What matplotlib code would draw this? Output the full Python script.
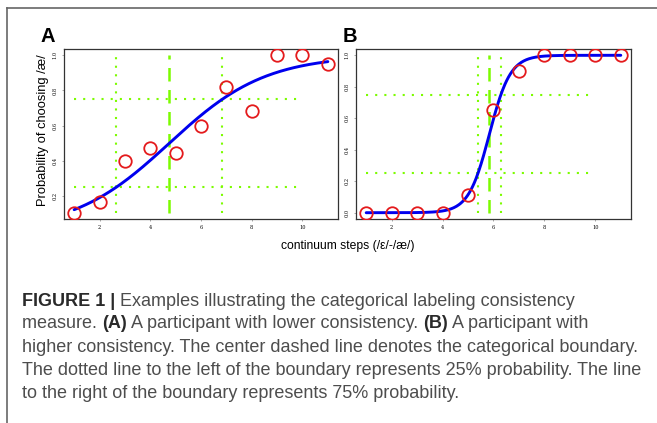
import numpy as np
import matplotlib
matplotlib.use("Agg")
import matplotlib.pyplot as plt
from matplotlib.lines import Line2D

# ---------------- DATA ----------------
steps = [1, 2, 3, 4, 5, 6, 7, 8, 9, 10, 11]
prop_a = [0.105, 0.164, 0.40, 0.474, 0.445, 0.60, 0.82, 0.686, 1.0, 1.0, 0.949]
prop_b = [0.0, 0.0, 0.0, 0.0, 0.114, 0.652, 0.90, 1.0, 1.0, 1.0, 1.0]

# logistic fits: boundary (50%) and slope
boundary = [4.75, 5.84]
slope = [0.526, 2.44]

panel_labels = ["A", "B"]
x_ticks = [2, 4, 6, 8, 10]
y_ticks_a = [0.2, 0.4, 0.6, 0.8, 1.0]
y_ticks_b = [0.0, 0.2, 0.4, 0.6, 0.8, 1.0]

caption_lines = [
    [("FIGURE 1 |", True), (" Examples illustrating the categorical labeling consistency", False)],
    [("measure. ", False), ("(A)", True), (" A participant with lower consistency. ", False),
     ("(B)", True), (" A participant with", False)],
    [("higher consistency. The center dashed line denotes the categorical boundary.", False)],
    [("The dotted line to the left of the boundary represents 25% probability. The line", False)],
    [("to the right of the boundary represents 75% probability.", False)],
]

GREEN = "#7cfc00"
W, H = 657, 423


def draw_panel(ax, y, b, s, yticks):
    x = np.array(steps, dtype=float)
    y = np.array(y, dtype=float)
    ymin, ymax = y.min(), y.max()
    q = np.log(3) / s
    lo, hi = b - q, b + q

    # guide lines
    ax.hlines([0.25, 0.75], x.min(), 10, colors=GREEN, lw=1.5,
              linestyles=(0, (1.0, 3.4)))
    ax.vlines([lo, hi], ymin, ymax, colors=GREEN, lw=1.5,
              linestyles=(0, (1.0, 3.1)))
    ax.vlines([b], ymin, ymax, colors=GREEN, lw=1.8,
              linestyles=(0, (5.4, 3.4)))

    # fitted curve
    xx = np.linspace(x.min(), x.max(), 300)
    ax.plot(xx, 1 / (1 + np.exp(-s * (xx - b))), color="#0000ee", lw=2.1,
            solid_capstyle="round", zorder=3)

    # observed proportions
    ax.plot(x, y, "o", mfc="none", mec="#e41a1c", mew=1.3, ms=9, zorder=4)

    xr = x.max() - x.min()
    yr = ymax - ymin
    ax.set_xlim(x.min() - 0.04 * xr, x.max() + 0.04 * xr)
    ax.set_ylim(ymin - 0.04 * yr, ymax + 0.04 * yr)

    ax.set_xticks(x_ticks)
    ax.set_yticks(yticks)
    ax.set_xticklabels([str(t) for t in x_ticks], family="DejaVu Serif", fontsize=3.6)
    ax.set_yticklabels(["%.1f" % t for t in yticks], family="DejaVu Serif",
                       fontsize=3.6, rotation=90, va="center")
    ax.tick_params(length=1.5, width=0.5, color="#888888", pad=3)
    for sp in ax.spines.values():
        sp.set_linewidth(0.9)
        sp.set_color("#333333")


def main():
    fig = plt.figure(figsize=(W / 100, H / 100), dpi=100)

    ax_a = fig.add_axes([64 / W, 1 - 219 / H, 274 / W, 170 / H])
    ax_b = fig.add_axes([356 / W, 1 - 219 / H, 275 / W, 170 / H])

    draw_panel(ax_a, prop_a, boundary[0], slope[0], y_ticks_a)
    draw_panel(ax_b, prop_b, boundary[1], slope[1], y_ticks_b)

    # panel letters
    for lab, px in zip(panel_labels, [48, 350]):
        fig.text(px / W, 1 - 36 / H, lab, fontsize=14.5, fontweight="bold",
                 family="Liberation Sans", ha="center", va="center")

    fig.text(43 / W, 1 - 130 / H, "Probability of choosing /æ/", rotation=90,
             fontsize=9.3, family="Liberation Sans", ha="center", va="center")
    fig.text(348 / W, 1 - 246 / H, "continuum steps (/ε/-/æ/)",
             fontsize=8.7, family="Liberation Sans", ha="center", va="center")

    # frame lines (top and left)
    fig.add_artist(Line2D([7 / W, 1], [1 - 8 / H, 1 - 8 / H], color="#666666", lw=1.2))
    fig.add_artist(Line2D([7 / W, 7 / W], [0, 1 - 8 / H], color="#666666", lw=1.2))

    # caption with mixed bold text
    for i, segs in enumerate(caption_lines):
        ybase = 1 - (305.5 + 23 * i) / H
        prev_bb = None
        for txt, bold in segs:
            kw = dict(fontsize=13.0, family="Liberation Sans",
                      color="#2a2a2a" if bold else "#4d4d4d",
                      fontweight="bold" if bold else "normal",
                      va="baseline", ha="left")
            if prev_bb is None:
                t = fig.text(22 / W, ybase, txt, **kw)
            else:
                t = fig.text(prev_bb.x1 / fig.bbox.width, ybase, txt, **kw)
            fig.canvas.draw()
            prev_bb = t.get_window_extent()

    fig.savefig("out.png", dpi=100)
    plt.close(fig)


if __name__ == "__main__":
    main()
